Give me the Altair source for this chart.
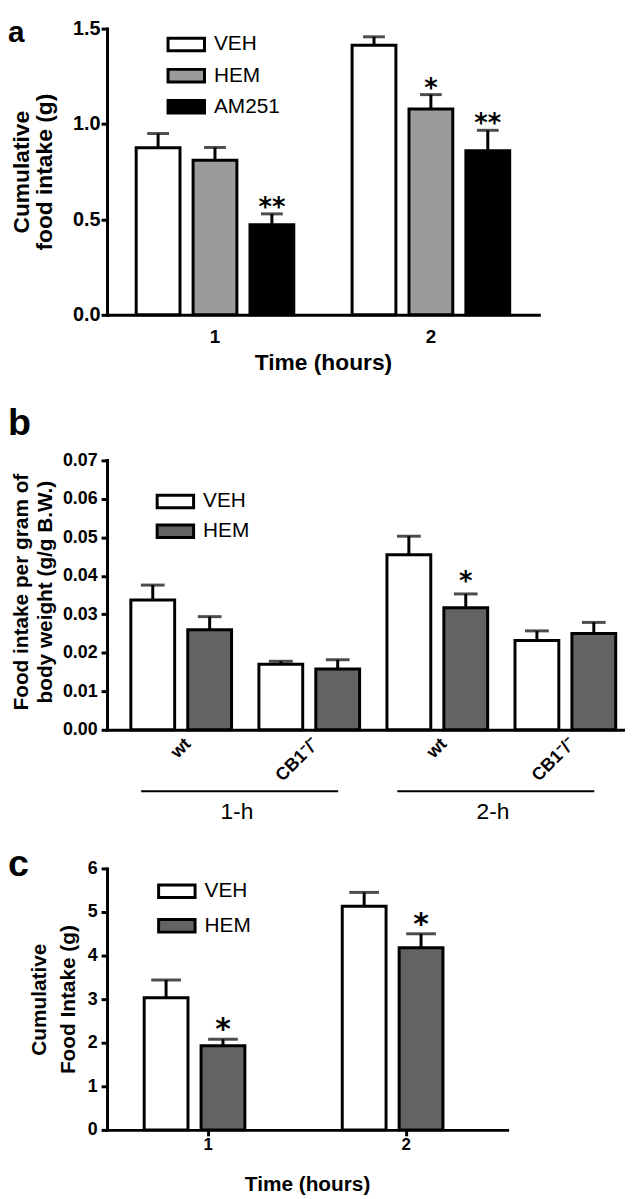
import altair as alt
import pandas as pd

FONT = "Liberation Sans"
STAR_FONT = "DejaVu Sans"

# ---------------- panel a ----------------
a_hours = ["1", "2"]
a_groups = ["VEH", "HEM", "AM251"]
a_colors = ["#ffffff", "#9b9b9b", "#000000"]
a_time = ["1", "1", "1", "2", "2", "2"]
a_treat = ["VEH", "HEM", "AM251", "VEH", "HEM", "AM251"]
a_mean = [0.875, 0.81, 0.472, 1.413, 1.079, 0.86]
a_upper = [0.95, 0.877, 0.529, 1.457, 1.154, 0.967]
a_sig = ["", "", "**", "", "*", "**"]
a_yticks = [0.0, 0.5, 1.0, 1.5]

# ---------------- panel b ----------------
b_cats = ["1-h wt", "1-h CB1", "2-h wt", "2-h CB1"]
b_groups = ["VEH", "HEM"]
b_colors = ["#ffffff", "#636363"]
b_cat = ["1-h wt", "1-h wt", "1-h CB1", "1-h CB1", "2-h wt", "2-h wt", "2-h CB1", "2-h CB1"]
b_treat = ["VEH", "HEM", "VEH", "HEM", "VEH", "HEM", "VEH", "HEM"]
b_mean = [0.0337, 0.0260, 0.0170, 0.0158, 0.0455, 0.0317, 0.0232, 0.0250]
b_upper = [0.0376, 0.0294, 0.0178, 0.0182, 0.0503, 0.0353, 0.0257, 0.0279]
b_sig = ["", "", "", "", "", "*", "", ""]
b_yticks = [0.00, 0.01, 0.02, 0.03, 0.04, 0.05, 0.06, 0.07]
b_period = ["1-h", "2-h"]
b_period_start = ["1-h wt", "2-h wt"]
b_period_end = ["1-h CB1", "2-h CB1"]

# ---------------- panel c ----------------
c_hours = ["1", "2"]
c_groups = ["VEH", "HEM"]
c_colors = ["#ffffff", "#636363"]
c_time = ["1", "1", "2", "2"]
c_treat = ["VEH", "HEM", "VEH", "HEM"]
c_mean = [3.03, 1.93, 5.13, 4.18]
c_upper = [3.44, 2.08, 5.45, 4.50]
c_sig = ["", "*", "", "*"]
c_yticks = [0, 1, 2, 3, 4, 5, 6]

SYMBOL = "M-1.6,-0.55H1.6V0.55H-1.6Z"


def make_legend(x, y, row_pad):
    return alt.Legend(
        orient="none", legendX=x, legendY=y, title=None,
        symbolType=SYMBOL, symbolSize=529,
        symbolStrokeColor="black", symbolStrokeWidth=3, symbolOpacity=1,
        labelFont=FONT, labelFontSize=21, labelColor="black",
        labelOffset=15, rowPadding=row_pad, padding=0,
    )


def make_panel(df, xdom, pin, pout, xaxis, groups, colors, off_pin, ydom, yaxis,
               legend, cap_size, star_size, star_dy, letter, letter_size, letter_y,
               width, height, extra=None):
    xs = alt.Scale(domain=xdom, paddingInner=pin, paddingOuter=pout)

    def X(field="x", **kw):
        return alt.X(f"{field}:N", scale=xs, axis=xaxis, **kw)

    XO = alt.XOffset("treat:N", scale=alt.Scale(domain=groups, paddingInner=off_pin, paddingOuter=0))
    ys = alt.Scale(domain=ydom, nice=False, zero=False)

    def Y(field):
        return alt.Y(f"{field}:Q", scale=ys, axis=yaxis)

    base = alt.Chart(df)
    err = base.mark_rule(color="black", strokeWidth=3).encode(
        x=X(), xOffset=XO, y=Y("mean"), y2="upper:Q")
    bars = base.mark_bar(stroke="black", strokeWidth=3).encode(
        x=X(), xOffset=XO, y=Y("mean"),
        color=alt.Color("treat:N", scale=alt.Scale(domain=groups, range=colors), legend=legend))
    caps = base.mark_tick(color="black", size=cap_size, thickness=3).encode(
        x=X(), xOffset=XO, y=Y("upper"))
    stars = base.mark_text(font=STAR_FONT, fontWeight="bold", fontSize=star_size, dy=star_dy,
                           baseline="alphabetic", color="black").encode(
        x=X(), xOffset=XO, y=Y("upper"), text="sig:N")
    lab = alt.Chart(pd.DataFrame({"t": [letter]})).mark_text(
        font=FONT, fontWeight="bold", fontSize=letter_size, align="left", baseline="alphabetic",
        color="black").encode(x=alt.value(-100), y=alt.value(letter_y), text="t:N")
    layers = [err, bars, caps, stars, lab]
    if extra is not None:
        layers += extra(X, Y)
    return alt.layer(*layers).properties(width=width, height=height)


# ---- panel a ----
dfa = pd.DataFrame({"x": a_time, "treat": a_treat, "mean": a_mean, "upper": a_upper, "sig": a_sig})
xaxis_a = alt.Axis(title="Time (hours)", labelAngle=0, ticks=False, tickSize=0, labelPadding=12.5,
                   labelFontSize=19, titleFontSize=23, titlePadding=6)
yaxis_a = alt.Axis(values=a_yticks, format=".1f", title=["Cumulative", "food intake (g)"],
                   titleFontSize=23, titleLineHeight=23, titlePadding=16,
                   labelFontSize=20, labelPadding=1, tickSize=6, grid=False)
pa = make_panel(dfa, a_hours, 0.27, 0.135, xaxis_a, a_groups, a_colors, 0.23,
                [0, 1.5], yaxis_a, make_legend(67, 3, 5.5), 22, 26, 2, "a", 30, 14, 436, 289)

# ---- panel b ----
# the plot box is extended 7 px above 0.07; the y axis line is drawn from 0 to 0.07
B_EXT = 7
B_H = 272
b_top = b_yticks[-1] * (B_H + B_EXT) / B_H
dfb = pd.DataFrame({"x": b_cat, "treat": b_treat, "mean": b_mean, "upper": b_upper, "sig": b_sig})
dfb_period = pd.DataFrame({"start": b_period_start, "end": b_period_end, "label": b_period})
dfb_axis = pd.DataFrame({"lo": [b_yticks[0]], "hi": [b_yticks[-1]]})
xaxis_b = alt.Axis(title=None, labelAngle=-45, ticks=False, tickSize=0, labelPadding=5,
                   labelFontSize=18, labelOffset=8,
                   labelExpr="indexof(datum.value, 'wt') >= 0 ? 'wt' : 'CB1\u207b/\u207b'")
yaxis_b = alt.Axis(values=b_yticks, format=".2f", domain=False,
                   title=["Food intake per gram of", "body weight (g/g B.W.)"],
                   titleFontSize=21, titleLineHeight=24, titlePadding=7,
                   labelFontSize=18, labelPadding=4, tickSize=6, grid=False)


def b_extra(X, Y):
    pchart = alt.Chart(dfb_period)
    lines = pchart.mark_rule(color="black", strokeWidth=2).encode(
        x=X("start", bandPosition=0.12), x2=alt.X2("end:N", bandPosition=0.92),
        y=alt.value(341))
    texts = pchart.mark_text(font=FONT, fontSize=23, dx=20, baseline="middle", color="black").encode(
        x=X("start", bandPosition=1.0), y=alt.value(362), text="label:N")
    yline = alt.Chart(dfb_axis).mark_rule(color="black", strokeWidth=3, strokeCap="square").encode(
        x=alt.value(0.5), y=Y("lo"), y2="hi:Q")
    return [lines, texts, yline]


pb = make_panel(dfb, b_cats, 0.327, 0.186, xaxis_b, b_groups, b_colors, 0,
                [0, b_top], yaxis_b, make_legend(56, 35.5, 4), 24, 26, -4, "b", 38, -19,
                523, B_H + B_EXT, extra=b_extra)

# ---- panel c ----
dfc = pd.DataFrame({"x": c_time, "treat": c_treat, "mean": c_mean, "upper": c_upper, "sig": c_sig})
xaxis_c = alt.Axis(title="Time (hours)", labelAngle=0, tickSize=6, labelPadding=1,
                   labelFontSize=17, titleFontSize=21, titlePadding=21)
yaxis_c = alt.Axis(values=c_yticks, format="d", title=["Cumulative", "Food Intake (g)"],
                   titleFontSize=21, titleLineHeight=29, titlePadding=9,
                   labelFontSize=18, labelPadding=4, tickSize=6, grid=False)
pc = make_panel(dfc, c_hours, 0.355, 0.1875, xaxis_c, c_groups, c_colors, 0.243,
                [0, 6], yaxis_c, make_legend(57.5, 10, 9), 30, 30, 0, "c", 38, 8, 404, 264)

chart = (
    alt.vconcat(pa, pb, pc, spacing=140, bounds="flush")
    .resolve_scale(color="independent")
    .properties(padding={"left": 0, "right": 0, "top": 4, "bottom": 0})
    .configure_axis(domainColor="black", domainWidth=3, domainCap="square",
                    tickColor="black", tickWidth=3,
                    labelColor="black", titleColor="black",
                    labelFont=FONT, titleFont=FONT,
                    labelFontWeight="bold", titleFontWeight="bold", grid=False)
    .configure_view(stroke=None)
)

chart.save("out.html", embed_options={"renderer": "svg", "actions": False})
